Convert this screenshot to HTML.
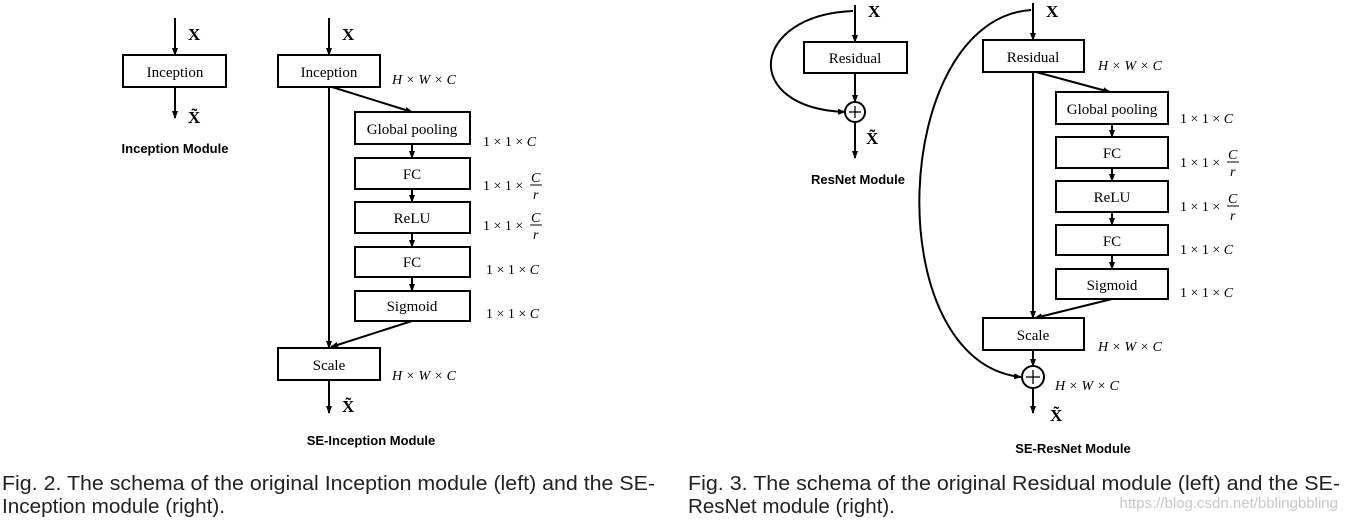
<!DOCTYPE html>
<html><head><meta charset="utf-8"><style>
body{margin:0;background:#fff;width:1347px;height:521px;overflow:hidden}
svg{display:block}
.b{font-family:"Liberation Serif",serif;font-size:15px;text-anchor:middle}
.m{font-family:"Liberation Serif",serif;font-size:14px;font-style:italic}
.n{font-style:normal}
.x{font-family:"Liberation Serif",serif;font-size:17px;font-weight:bold}
.t{font-family:"Liberation Sans",sans-serif;font-size:13px;font-weight:bold;text-anchor:middle}
.c{font-family:"Liberation Sans",sans-serif;font-size:20.5px;fill:#222}
</style></head><body>
<svg width="1347" height="521" viewBox="0 0 1347 521">
<defs><marker id="a" markerWidth="8" markerHeight="8" refX="7" refY="4" orient="auto" markerUnits="userSpaceOnUse"><path d="M0,1 L8,4 L0,7Z" fill="#000"/></marker></defs>
<g stroke="#000" stroke-width="2" fill="none">
<line x1="175" y1="18" x2="175" y2="55" marker-end="url(#a)"/>
<rect x="123" y="55" width="103" height="32"/>
<line x1="175" y1="87" x2="175" y2="118" marker-end="url(#a)"/>
<line x1="329" y1="18" x2="329" y2="55" marker-end="url(#a)"/>
<rect x="278" y="55" width="102" height="32"/>
<line x1="329" y1="87" x2="329" y2="348" marker-end="url(#a)"/>
<line x1="332" y1="87" x2="412" y2="112" marker-end="url(#a)"/>
<rect x="355" y="112" width="115" height="32"/>
<rect x="355" y="158" width="115" height="31"/>
<rect x="355" y="202" width="115" height="31"/>
<rect x="355" y="247" width="115" height="30"/>
<rect x="355" y="291" width="115" height="30"/>
<line x1="412" y1="144" x2="412" y2="158" marker-end="url(#a)"/>
<line x1="412" y1="189" x2="412" y2="202" marker-end="url(#a)"/>
<line x1="412" y1="233" x2="412" y2="247" marker-end="url(#a)"/>
<line x1="412" y1="277" x2="412" y2="291" marker-end="url(#a)"/>
<line x1="412" y1="321" x2="331" y2="347" marker-end="url(#a)"/>
<rect x="278" y="348" width="102" height="32"/>
<line x1="329" y1="380" x2="329" y2="413" marker-end="url(#a)"/>
<line x1="855" y1="5" x2="855" y2="42" marker-end="url(#a)"/>
<rect x="804" y="42" width="103" height="31"/>
<line x1="855" y1="73" x2="855" y2="102" marker-end="url(#a)"/>
<circle cx="855" cy="112" r="10"/>
<path d="M853,11 C750,15 740,108 845,112" marker-end="url(#a)"/>
<line x1="855" y1="122" x2="855" y2="158" marker-end="url(#a)"/>
<line x1="1033" y1="3" x2="1033" y2="40" marker-end="url(#a)"/>
<rect x="983" y="40" width="101" height="32"/>
<line x1="1033" y1="72" x2="1033" y2="318" marker-end="url(#a)"/>
<line x1="1036" y1="72" x2="1110" y2="92" marker-end="url(#a)"/>
<rect x="1056" y="92" width="112" height="32"/>
<rect x="1056" y="137" width="112" height="31"/>
<rect x="1056" y="181" width="112" height="31"/>
<rect x="1056" y="225" width="112" height="30"/>
<rect x="1056" y="269" width="112" height="30"/>
<line x1="1112" y1="124" x2="1112" y2="137" marker-end="url(#a)"/>
<line x1="1112" y1="168" x2="1112" y2="181" marker-end="url(#a)"/>
<line x1="1112" y1="212" x2="1112" y2="225" marker-end="url(#a)"/>
<line x1="1112" y1="255" x2="1112" y2="269" marker-end="url(#a)"/>
<line x1="1112" y1="299" x2="1035" y2="318" marker-end="url(#a)"/>
<rect x="983" y="318" width="101" height="32"/>
<line x1="1033" y1="350" x2="1033" y2="366" marker-end="url(#a)"/>
<circle cx="1033" cy="377" r="11"/>
<path d="M1031,10 C890,20 878,362 1021,377" marker-end="url(#a)"/>
<line x1="1033" y1="388" x2="1033" y2="413" marker-end="url(#a)"/>
</g>
<g stroke="#000" stroke-width="1.3"><line x1="849" y1="112" x2="861" y2="112"/><line x1="855" y1="106" x2="855" y2="118"/>
<line x1="1026" y1="377" x2="1040" y2="377"/><line x1="1033" y1="370" x2="1033" y2="384"/></g>
<text class="x" x="188" y="40">X</text><text class="x" x="188" y="123">X̃</text>
<text class="b" x="175" y="77">Inception</text>
<text class="t" x="175" y="153">Inception Module</text>
<text class="x" x="342" y="40">X</text>
<text class="b" x="329" y="77">Inception</text>
<text class="m" x="392" y="84">H × W × C</text>
<text class="b" x="412" y="134">Global pooling</text>
<text class="b" x="412" y="179">FC</text>
<text class="b" x="412" y="223">ReLU</text>
<text class="b" x="412" y="267">FC</text>
<text class="b" x="412" y="311">Sigmoid</text>
<text class="b" x="329" y="370">Scale</text>
<text class="m" x="392" y="380">H × W × C</text>
<text class="x" x="342" y="412">X̃</text>
<text class="t" x="371" y="445">SE-Inception Module</text>
<g class="m">
<text x="483" y="146"><tspan class="n">1 × 1 ×</tspan> C</text>
<text x="483" y="190"><tspan class="n">1 × 1 ×</tspan></text><text x="531" y="182">C</text><text x="533" y="199">r</text>
<text x="483" y="230"><tspan class="n">1 × 1 ×</tspan></text><text x="531" y="222">C</text><text x="533" y="239">r</text>
<text x="486" y="274"><tspan class="n">1 × 1 ×</tspan> C</text>
<text x="486" y="318"><tspan class="n">1 × 1 ×</tspan> C</text>
<text x="1180" y="123"><tspan class="n">1 × 1 ×</tspan> C</text>
<text x="1180" y="167"><tspan class="n">1 × 1 ×</tspan></text><text x="1228" y="159">C</text><text x="1230" y="176">r</text>
<text x="1180" y="211"><tspan class="n">1 × 1 ×</tspan></text><text x="1228" y="203">C</text><text x="1230" y="220">r</text>
<text x="1180" y="254"><tspan class="n">1 × 1 ×</tspan> C</text>
<text x="1180" y="297"><tspan class="n">1 × 1 ×</tspan> C</text>
<text x="1098" y="70">H × W × C</text>
<text x="1098" y="351">H × W × C</text>
<text x="1055" y="390">H × W × C</text>
</g>
<g stroke="#000" stroke-width="1"><line x1="530" y1="185" x2="542" y2="185"/><line x1="530" y1="225" x2="542" y2="225"/>
<line x1="1227" y1="162" x2="1239" y2="162"/><line x1="1227" y1="206" x2="1239" y2="206"/></g>
<text class="x" x="868" y="17">X</text>
<text class="b" x="855" y="63">Residual</text>
<text class="x" x="866" y="144">X̃</text>
<text class="t" x="858" y="184">ResNet Module</text>
<text class="x" x="1046" y="17">X</text>
<text class="b" x="1033" y="62">Residual</text>
<text class="b" x="1112" y="114">Global pooling</text>
<text class="b" x="1112" y="158">FC</text>
<text class="b" x="1112" y="202">ReLU</text>
<text class="b" x="1112" y="246">FC</text>
<text class="b" x="1112" y="290">Sigmoid</text>
<text class="b" x="1033" y="340">Scale</text>
<text class="x" x="1050" y="421">X̃</text>
<text class="t" x="1073" y="453">SE-ResNet Module</text>
<text class="c" x="2" y="490" textLength="653" lengthAdjust="spacingAndGlyphs">Fig. 2. The schema of the original Inception module (left) and the SE-</text>
<text class="c" x="2" y="513" textLength="223" lengthAdjust="spacingAndGlyphs">Inception module (right).</text>
<text class="c" x="688" y="490" textLength="652" lengthAdjust="spacingAndGlyphs">Fig. 3. The schema of the original Residual module (left) and the SE-</text>
<text class="c" x="688" y="513" textLength="207" lengthAdjust="spacingAndGlyphs">ResNet module (right).</text>
<text x="1338" y="508" text-anchor="end" style="font-family:'Liberation Sans',sans-serif;font-size:15px;fill:#c8c8c8">https://blog.csdn.net/bblingbbling</text>
</svg>
</body></html>
